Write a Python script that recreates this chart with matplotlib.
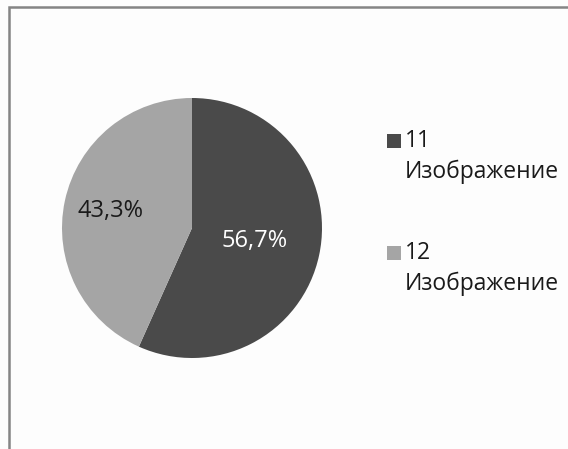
import matplotlib
matplotlib.use("Agg")
import matplotlib.pyplot as plt
from matplotlib.patches import Rectangle
import numpy as np

plt.rcParams['font.family'] = ['Open Sans', 'DejaVu Sans']

# доли изображений
labels = ['11\nИзображение', '12\nИзображение']
values = [56.7, 43.3]
colors = ['#4a4a4a', '#a5a5a5']
pct_colors = ['white', '#1a1a1a']
pct_dist = [0.49, 0.64]

W, H = 568, 449
fig = plt.figure(figsize=(W / 100, H / 100), dpi=100, facecolor='#fdfdfd')
ax = fig.add_axes([0, 0, 1, 1])

wedges, texts, autotexts = ax.pie(
    values, colors=colors, startangle=90, counterclock=False,
    center=(192, H - 228), radius=130,
    autopct=lambda p: ('%.1f%%' % p).replace('.', ','),
    textprops={'fontsize': 17})

# pie сбрасывает пределы, поэтому задаём их после
ax.set_xlim(0, W)
ax.set_ylim(0, H)
ax.set_aspect('equal')
ax.axis('off')

# рамка области диаграммы
ax.add_patch(Rectangle((9, -20), 600, H - 7 + 20, fill=False,
                       edgecolor='#858585', linewidth=1.8))

# подписи процентов на разном удалении от центра
for w, t, d, c in zip(wedges, autotexts, pct_dist, pct_colors):
    ang = np.deg2rad((w.theta1 + w.theta2) / 2)
    t.set_position((192 + 130 * d * np.cos(ang), H - 228 + 130 * d * np.sin(ang)))
    t.set_color(c)

# легенда
leg_y = [141, 253]
for lab, col, y in zip(labels, colors, leg_y):
    ax.add_patch(Rectangle((387, H - y - 7), 14, 14, facecolor=col, edgecolor='none'))
    first, second = lab.split('\n')
    ax.text(405, H - y, first, fontsize=16.5, va='center', ha='left', color='#1a1a1a')
    ax.text(405, H - y - 31, second, fontsize=16.5, va='center', ha='left', color='#1a1a1a')

fig.savefig('out.png', dpi=100, facecolor=fig.get_facecolor())
